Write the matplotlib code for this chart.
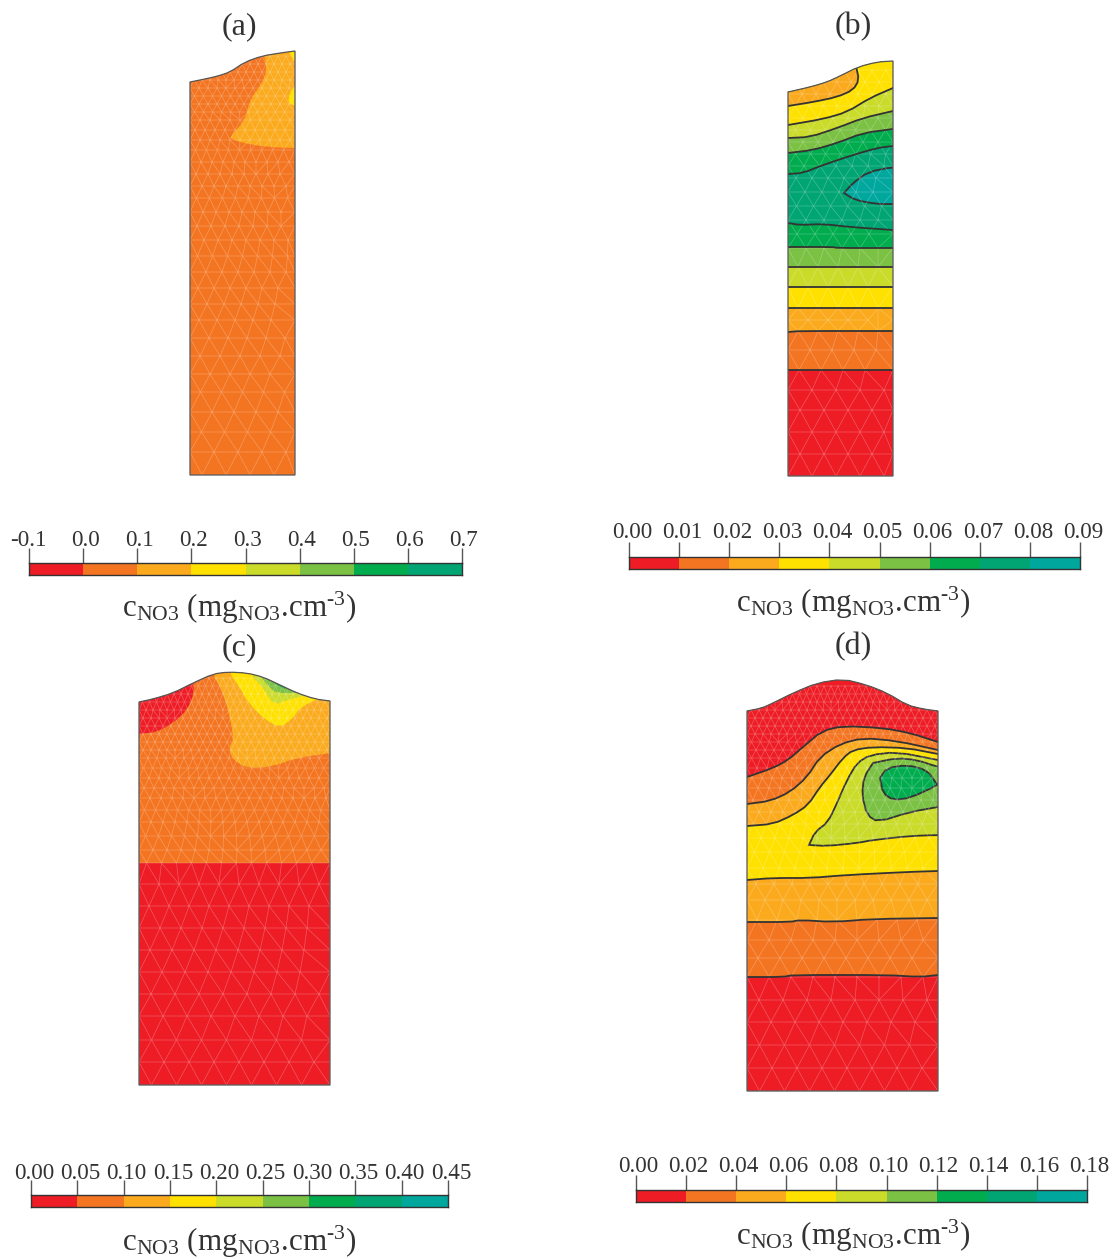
import numpy as np
import matplotlib
matplotlib.use('Agg')
import matplotlib.pyplot as plt
from matplotlib.patches import Polygon
from matplotlib.tri import Triangulation
from matplotlib.transforms import ScaledTranslation

plt.rcParams['font.family'] = ['Liberation Serif', 'DejaVu Serif']
plt.rcParams['mathtext.fontset'] = 'custom'
plt.rcParams['mathtext.rm'] = 'Liberation Serif'
plt.rcParams['mathtext.it'] = 'Liberation Serif:italic'

W, H = 1119, 1259

RED = '#EE1C25'
ORANGE = '#F47521'
AMBER = '#FBAA1D'
YELLOW = '#FFE100'
LIME = '#CADB2A'
LGREEN = '#7BC143'
GREEN = '#00AC4E'
TGREEN = '#00A573'
TEAL = '#00A79D'
ramp = [RED, ORANGE, AMBER, YELLOW, LIME, LGREEN, GREEN, TGREEN, TEAL]

# tick labels of the colour scales
ticks_a = ['-0.1', '0.0', '0.1', '0.2', '0.3', '0.4', '0.5', '0.6', '0.7']
ticks_b = ['0.00', '0.01', '0.02', '0.03', '0.04', '0.05', '0.06', '0.07', '0.08', '0.09']
ticks_c = ['0.00', '0.05', '0.10', '0.15', '0.20', '0.25', '0.30', '0.35', '0.40', '0.45']
ticks_d = ['0.00', '0.02', '0.04', '0.06', '0.08', '0.10', '0.12', '0.14', '0.16', '0.18']

# outlines of the four profiles, top arc first, then the two bottom corners
outline_a = [(190, 82), (205, 79), (218, 76), (230, 72), (245, 62), (262, 56), (280, 53), (295, 51), (295, 475), (190, 475)]
outline_b = [(788, 92), (810, 87), (827, 82), (840, 76), (858, 67), (877, 62), (893, 61), (893, 476), (788, 476)]
outline_c = [(139, 702), (153, 699), (173, 693), (193, 683), (213, 674), (228, 672), (247, 673), (263, 677), (280, 685), (297, 693), (315, 699), (330, 701), (330, 1085), (139, 1085)]
outline_d = [(747, 711), (762, 708), (773, 703), (793, 693), (817, 683), (843, 679), (867, 685), (887, 693), (907, 705), (923, 709), (938, 711), (938, 1091), (747, 1091)]

# panel a regions
a_amber = [(260, 30), (263, 50), (267, 70), (262, 83), (250, 100), (245, 120), (230, 137), (232, 139), (243, 143), (267, 147), (295, 148), (340, 148), (340, 30)]
a_yellow1 = [(286, 30), (289, 53), (292, 57), (294, 62), (340, 66), (340, 30)]
a_yellow2 = [(330, 78), (296, 85), (290, 92), (288, 103), (296, 106), (330, 112)]

# panel b contour lines, bottom to top
b_lines = [
    [(788, 370), (893, 370)],
    [(788, 332), (800, 331), (893, 331)],
    [(788, 308), (893, 308)],
    [(788, 287), (893, 287)],
    [(788, 267), (893, 267)],
    [(788, 247), (833, 247), (837, 248), (893, 248)],
    [(788, 223), (800, 225), (823, 224), (850, 227), (893, 230)],
    [(788, 174), (803, 173), (823, 165), (853, 155), (877, 148), (893, 146)],
    [(788, 153), (813, 150), (837, 143), (863, 133), (893, 129)],
    [(788, 138), (810, 137), (837, 128), (863, 118), (893, 111)],
    [(788, 125), (823, 119), (847, 112), (870, 98), (893, 88)],
]
b_colors = [ORANGE, AMBER, YELLOW, LIME, LGREEN, GREEN, TGREEN, GREEN, LGREEN, LIME, YELLOW]
b_amber_top = [(788, 106), (813, 102), (837, 97), (853, 90), (859, 80), (856, 66)]
b_teal = [(844, 193), (853, 183), (868, 172), (893, 167), (930, 165), (930, 205), (893, 204), (877, 204), (855, 200), (844, 193)]

# panel c regions
c_split = [(139, 863), (330, 863)]
c_red = [(100, 640), (193, 640), (193, 683), (194, 693), (187, 710), (173, 723), (157, 732), (139, 734), (100, 736)]
c_amber = [(205, 640), (213, 675), (222, 690), (228, 710), (234, 738), (229, 748), (233, 760), (247, 768), (270, 767), (297, 758), (330, 753), (370, 748), (370, 640)]
c_yellow = [(222, 640), (229, 672), (240, 688), (248, 702), (263, 718), (280, 728), (293, 718), (300, 708), (317, 699), (350, 690), (350, 640)]
c_lime = [(245, 640), (250, 674), (263, 688), (274, 705), (287, 700), (307, 695), (340, 680), (340, 640)]
c_lgreen = [(255, 640), (260, 676), (270, 688), (277, 693), (300, 693), (330, 660), (330, 640)]
c_green = [(262, 640), (266, 677), (277, 685), (287, 690), (310, 660), (310, 640)]

# panel d contour lines, bottom to top
d_lines = [
    [(747, 977), (783, 977), (793, 975), (887, 975), (920, 977), (938, 975)],
    [(747, 922), (790, 922), (800, 920), (833, 922), (873, 919), (938, 918)],
    [(747, 880), (773, 878), (810, 878), (847, 875), (907, 872), (938, 871)],
    [(747, 826), (773, 824), (793, 815), (808, 805), (820, 787), (830, 775), (843, 758), (853, 750), (873, 747), (907, 748), (938, 754)],
    [(747, 804), (770, 801), (790, 792), (807, 777), (820, 757), (840, 744), (863, 738), (897, 741), (938, 750)],
    [(747, 777), (773, 768), (788, 760), (803, 747), (822, 731), (843, 726), (883, 728), (910, 733), (938, 742)],
]
d_colors = [ORANGE, AMBER, YELLOW, AMBER, ORANGE, RED]
d_lime = [(809, 845), (815, 832), (828, 822), (837, 803), (847, 780), (857, 763), (870, 755), (897, 752), (938, 760), (980, 768), (980, 835), (938, 835), (910, 836), (873, 840), (857, 843), (827, 846), (809, 845)]
d_lgreen = [(873, 763), (897, 758), (917, 760), (938, 767), (980, 775), (980, 800), (938, 807), (910, 812), (878, 822), (867, 815), (862, 795), (864, 777), (873, 763)]
d_green = [(880, 778), (887, 768), (907, 765), (927, 770), (936, 783), (938, 785), (910, 798), (893, 800), (883, 793), (880, 778)]

# mesh rows (y in px) and spacing of the nodes on them
mesh_a_y = [56, 64, 72, 80, 88, 96, 104, 112, 120, 130, 140, 150, 162, 174, 186, 198, 212, 226, 240, 256, 272, 288, 304, 320, 338, 356, 374, 392, 412, 432, 452, 475]
mesh_a_dx = [8, 8, 8, 8, 9, 9, 9, 9, 10, 10, 10, 11, 11, 12, 12, 13, 13, 14, 14, 15, 16, 16, 17, 18, 19, 20, 20, 21, 22, 23, 24, 24]
mesh_b_y = [70, 82, 94, 106, 118, 130, 142, 154, 166, 178, 192, 206, 220, 234, 248, 267, 287, 308, 320, 331, 350, 370, 390, 410, 432, 454, 476]
mesh_b_dx = [14, 14, 14, 14, 15, 15, 15, 15, 16, 16, 17, 17, 18, 18, 18, 20, 20, 20, 20, 20, 22, 22, 24, 24, 24, 24, 24]
mesh_c_y = [678, 686, 694, 702, 710, 718, 726, 734, 742, 750, 758, 768, 778, 788, 798, 810, 822, 836, 850, 863, 884, 906, 928, 950, 972, 994, 1016, 1040, 1062, 1085]
mesh_c_dx = [7, 7, 7, 7, 7, 8, 8, 8, 8, 8, 9, 9, 10, 10, 11, 11, 12, 13, 14, 15, 20, 20, 21, 22, 23, 24, 24, 25, 25, 25]
mesh_d_y = [686, 694, 702, 710, 718, 726, 734, 742, 750, 758, 768, 778, 788, 800, 812, 824, 838, 852, 868, 884, 900, 920, 940, 958, 977, 1000, 1022, 1045, 1068, 1091]
mesh_d_dx = [7, 7, 7, 8, 8, 8, 8, 9, 9, 9, 10, 10, 11, 12, 12, 13, 14, 15, 16, 18, 18, 20, 22, 22, 22, 24, 24, 25, 25, 25]

fig = plt.figure(figsize=(W / 100, H / 100), dpi=100)
ax = fig.add_axes([0, 0, 1, 1])
ax.set_xlim(0, W)
ax.set_ylim(H, 0)
ax.axis('off')


def smooth(pts, n=2):
    # round the corners of a hand-read polyline, end points stay
    for _ in range(n):
        new = [pts[0]]
        for (x0, y0), (x1, y1) in zip(pts[:-1], pts[1:]):
            new.append((0.75 * x0 + 0.25 * x1, 0.75 * y0 + 0.25 * y1))
            new.append((0.25 * x0 + 0.75 * x1, 0.25 * y0 + 0.75 * y1))
        new.append(pts[-1])
        pts = new
    return pts


def above(line, colour, clip):
    # fill everything above a contour line
    line = smooth(line, 1)
    pts = list(line) + [(line[-1][0] + 2, 0), (line[0][0] - 2, 0)]
    p = Polygon(pts, closed=True, fc=colour, ec='none', zorder=2)
    ax.add_patch(p)
    p.set_clip_path(clip)


def region(pts, colour, clip, edge=False):
    p = Polygon(smooth(pts, 1), closed=True, fc=colour, ec='#333333' if edge else 'none', lw=1.3, zorder=3)
    ax.add_patch(p)
    p.set_clip_path(clip)


def contour(line, clip):
    xs, ys = zip(*smooth(line, 1))
    l, = ax.plot(xs, ys, color='#333333', lw=1.3, zorder=5)
    l.set_clip_path(clip)


def mesh(rows, steps, outline, clip):
    xs = [p[0] for p in outline]
    x0, x1 = min(xs), max(xs)
    px, py = [], []
    for i, (y, dx) in enumerate(zip(rows, steps)):
        row = np.arange(x0 + (dx / 2 if i % 2 else 0), x1 - dx / 3, dx)
        row = np.append(row, [x0, x1])
        px.extend(row)
        py.extend([y] * len(row))
    tri = Triangulation(px, py)
    lines = ax.triplot(tri, color='white', lw=0.5, alpha=0.27, zorder=4)
    for l in lines:
        l.set_clip_path(clip)


def shape(outline):
    return smooth(outline[:-2], 1) + outline[-2:]


def base(outline, colour):
    p = Polygon(shape(outline), closed=True, fc=colour, ec='none', zorder=1)
    ax.add_patch(p)
    return p


def frame(outline):
    ax.add_patch(Polygon(shape(outline), closed=True, fc='none', ec='#555555', lw=0.9, zorder=6))


# (a)
clip = base(outline_a, ORANGE)
region(a_amber, AMBER, clip)
region(a_yellow1, YELLOW, clip)
region(a_yellow2, YELLOW, clip)
mesh(mesh_a_y, mesh_a_dx, outline_a, clip)
frame(outline_a)

# (b)
clip = base(outline_b, RED)
for line, col in zip(b_lines, b_colors):
    above(line, col, clip)
    contour(line, clip)
region(b_amber_top + [(850, 20), (750, 20), (750, 106)], AMBER, clip)
contour(b_amber_top, clip)
region(b_teal, TEAL, clip, edge=True)
mesh(mesh_b_y, mesh_b_dx, outline_b, clip)
frame(outline_b)

# (c)
clip = base(outline_c, RED)
above(c_split, ORANGE, clip)
region(c_red, RED, clip)
region(c_amber, AMBER, clip)
region(c_yellow, YELLOW, clip)
region(c_lime, LIME, clip)
region(c_lgreen, LGREEN, clip)
region(c_green, GREEN, clip)
mesh(mesh_c_y, mesh_c_dx, outline_c, clip)
frame(outline_c)

# (d)
clip = base(outline_d, RED)
for line, col in zip(d_lines, d_colors):
    above(line, col, clip)
    contour(line, clip)
region(d_lime, LIME, clip, edge=True)
region(d_lgreen, LGREEN, clip, edge=True)
region(d_green, GREEN, clip, edge=True)
mesh(mesh_d_y, mesh_d_dx, outline_d, clip)
frame(outline_d)


def scale(labels, x0, x1, y0, y1, label_x, label_y, dx, dy):
    # colour bar in its own small axes, ticks on top
    cax = fig.add_axes([x0 / W, 1 - y1 / H, (x1 - x0) / W, (y1 - y0) / H])
    n = len(labels) - 1
    cax.bar(range(n), [1] * n, width=1, align='edge', color=ramp[:n])
    cax.set_xlim(0, n)
    cax.set_ylim(0, 1)
    cax.set_yticks([])
    cax.set_xticks(range(n + 1), labels)
    cax.xaxis.tick_top()
    cax.tick_params(axis='x', length=11, width=1, color='#555555', labelsize=16.6, labelcolor='#333333', pad=1)
    # labels in the reference sit a little right of and closer to the ticks
    for t in cax.get_xticklabels():
        extra = -3 if t.get_text().startswith('-') else 0
        shift = ScaledTranslation((dx + extra) / 100, -dy / 100, fig.dpi_scale_trans)
        t.set_transform(t.get_transform() + shift)
    for s in cax.spines.values():
        s.set_color('#333333')
        s.set_linewidth(1)
    ax.text(label_x, label_y, 'c$_{\\mathrm{NO3}}$ (mg$_{\\mathrm{NO3}}$.cm$^{\\mathrm{\u20103}}$)',
            fontsize=22.4, color='#333333', ha='center', va='center')


scale(ticks_a, 29, 462, 563, 575, 239, 608, 2, 5)
scale(ticks_b, 629, 1080, 557, 569, 853, 603, 3, 3)
scale(ticks_c, 31, 448, 1195, 1207, 239, 1242, 3, 6)
scale(ticks_d, 636, 1087, 1190, 1202, 853, 1236, 2, 4)

for txt, x, y in [('(a)', 239, 27), ('(b)', 853, 27), ('(c)', 239, 648), ('(d)', 853, 647)]:
    ax.text(x, y, txt, fontsize=23, color='#333333', ha='center', va='center')

fig.savefig('out.png', dpi=100)
